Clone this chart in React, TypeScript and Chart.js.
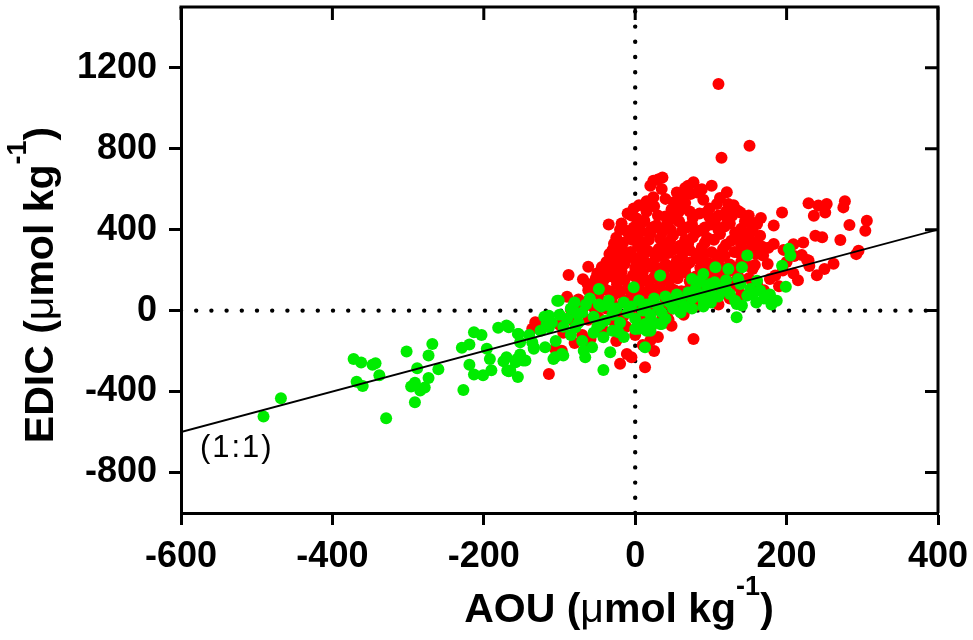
import React, { useEffect, useRef } from 'react';
import { Chart, registerables } from 'chart.js';

Chart.register(...registerables);

const X_MIN = -600;
const X_MAX = 400;
const Y_MIN = -1000;
const Y_MAX = 1500;
const X_TICKS = [-600, -400, -200, 0, 200, 400];
const Y_TICKS = [-800, -400, 0, 400, 800, 1200];

const X_TITLE = 'AOU';
const Y_TITLE = 'EDIC';
const UNIT_PREFIX = 'μ';
const UNIT_MAIN = 'mol kg';
const UNIT_SUP = '-1';
const LINE_LABEL = '(1:1)';

// AOU (x), EDIC (y) — red series
const RED: [number, number][] = [
  // outliers
  [110, 1120], [151, 815], [114, 755], [-35, 425], [-62, 217], [-88, 176], [-69, 155], [-63, 132],
  [-90, 69], [-132, -58], [-136, -90], [-114, -313], [-106, -189], [-97, -198], [-59, -140],
  [-130, -75], [77, -140], [-11, -214], [13, -280], [-20, -263], [20, -148], [42, -33],
  [-46, 189], [-37, 198], [-29, 231], [-22, 214],
  // upper cluster
  [24, 642], [30, 648], [36, 658], [35, 601], [20, 617], [24, 560], [77, 634], [70, 617], [82, 584],
  [73, 576], [55, 584], [51, 535], [57, 486], [101, 617], [121, 585], [123, 527], [108, 527], [94, 485],
  [66, 606], [53, 527], [9, 436], [22, 411], [42, 428], [88, 600], [62, 560],
  // right cluster
  [194, 485], [229, 530], [242, 519], [253, 527], [251, 485], [236, 469], [277, 540], [275, 510],
  [306, 444], [304, 395], [283, 423], [271, 349], [238, 370], [247, 362], [222, 337], [209, 328],
  [295, 296], [292, 279], [229, 247], [183, 420], [183, 329], [169, 272], [166, 457], [152, 431],
  [148, 379], [165, 370], [161, 428], [154, 436], [139, 485], [128, 469], [227, 250], [196, 300],
  [210, 270], [176, 310],
  // lower right
  [195, 198], [209, 183], [185, 173], [178, 156], [161, 132], [121, 148], [103, 99], [230, 220],
  [250, 205], [240, 175], [262, 232], [215, 150], [190, 120], [170, 100], [140, 80], [125, 60],
  [150, 160], [135, 120], [220, 275], [200, 240], [175, 230], [155, 205], [110, 30], [95, 60],
  [80, 25], [60, 5],
  // main body
  [15, 540], [40, 552], [66, 532], [90, 548], [112, 556], [130, 520], [-2, 505],
  [-5, 470], [15, 490], [40, 465], [62, 505], [85, 480], [110, 470], [135, 495], [150, 470],
  [-18, 430], [-2, 410], [12, 445], [28, 420], [47, 400], [58, 440], [75, 425], [92, 410],
  [105, 440], [118, 415], [140, 405], [155, 395],
  [-25, 360], [-8, 375], [6, 345], [20, 380], [33, 355], [50, 372], [66, 350], [80, 385],
  [95, 360], [112, 378], [127, 345], [145, 355], [160, 340],
  [-30, 300], [-18, 312], [-6, 290], [4, 318], [17, 295], [31, 305], [44, 285], [59, 320],
  [72, 298], [88, 312], [101, 288], [116, 305], [131, 290], [150, 300], [168, 315],
  [-38, 240], [-26, 255], [-14, 232], [0, 250], [14, 238], [27, 262], [40, 230], [55, 248],
  [68, 225], [84, 255], [97, 235], [110, 250], [125, 228], [140, 240], [158, 225],
  [-50, 185], [-34, 170], [-18, 195], [-3, 175], [10, 188], [25, 165], [38, 192], [52, 172],
  [66, 190], [80, 168], [93, 185], [107, 175], [122, 195], [136, 170],
  [-55, 120], [-40, 105], [-24, 130], [-10, 110], [5, 125], [18, 100], [33, 128], [47, 112],
  [61, 95], [76, 120], [90, 105], [104, 130], [118, 90],
  [-75, 55], [-60, 60], [-45, 45], [-30, 70], [-16, 40], [-2, 65], [12, 50], [26, 75],
  [41, 35], [56, 62], [70, 40], [86, 70],
  [-85, 5], [-70, 0], [-52, -15], [-38, 10], [-22, -20], [-6, 5], [8, -25], [22, -5],
  [36, -30], [50, 10], [64, -20],
  [-120, -40], [-100, -70], [-80, -60], [-62, -45], [-44, -70], [-28, -55], [-12, -80], [4, -65],
  [20, -95], [34, -60], [48, -75],
  [-95, -110], [-70, -120], [-40, -105], [-25, -150], [0, -120], [10, -170], [30, -130],
  [-60, -170], [-80, -160], [-5, -230], [25, -200],
  // extra fill of the dense core
  [2, 455], [30, 470], [52, 452], [76, 458], [98, 462], [122, 452],
  [-12, 395], [8, 392], [36, 388], [62, 395], [86, 396], [110, 398], [132, 385], [150, 372],
  [-16, 335], [12, 330], [40, 325], [70, 330], [92, 335], [120, 325], [140, 322],
  [-22, 272], [8, 272], [36, 270], [62, 272], [90, 275], [118, 270], [145, 268],
  [-28, 210], [0, 212], [30, 210], [58, 208], [86, 212], [114, 212], [128, 200],
  [-42, 150], [-14, 152], [16, 148], [44, 150], [72, 145], [98, 152], [112, 150],
  [-48, 85], [-20, 88], [8, 85], [36, 90], [62, 80], [80, 88],
  [-58, 25], [-30, 30], [-2, 28], [28, 22], [45, 55],
  [-10, 480], [5, 520], [25, 515], [48, 500], [72, 490], [98, 505], [120, 490],
  [-20, 400], [0, 380], [22, 400], [42, 415], [68, 410], [100, 425], [125, 430], [145, 440],
  [-28, 330], [-4, 350], [18, 350], [46, 345], [76, 362], [104, 350], [135, 365], [155, 325],
  [-34, 280], [-12, 265], [12, 282], [26, 280], [50, 300], [80, 280], [108, 272], [138, 282], [160, 280],
  [-44, 215], [-20, 220], [6, 222], [22, 215], [46, 218], [72, 238], [100, 215], [132, 212], [150, 220],
  [-52, 160], [-26, 158], [2, 160], [28, 180], [56, 160], [84, 150], [110, 160], [126, 140],
  [-62, 100], [-34, 95], [-6, 95], [22, 110], [52, 100], [70, 100], [92, 90], [112, 110],
  [-68, 40], [-40, 45], [-12, 50], [18, 40], [40, 55], [76, 55],
  [-78, -20], [-48, -35], [-16, -30], [14, -40], [44, -45],
];

// AOU (x), EDIC (y) — green series
const GREEN: [number, number][] = [
  // left tail
  [-491, -523], [-468, -433], [-372, -239], [-362, -257], [-347, -268], [-343, -260], [-338, -319],
  [-368, -352], [-360, -372], [-329, -532], [-302, -202], [-288, -285], [-273, -222], [-268, -165],
  [-260, -290], [-273, -333], [-291, -356], [-296, -375], [-284, -395], [-278, -380], [-291, -453],
  [-227, -392], [-229, -184], [-219, -168], [-213, -107], [-203, -120], [-196, -189], [-192, -239],
  [-219, -268], [-213, -316], [-201, -319], [-190, -295], [-181, -85], [-167, -82], [-174, -250],
  [-167, -300],
  // middle
  [-155, -115], [-152, -217], [-155, -328], [-148, -247], [-158, -255], [-169, -296], [-134, -189],
  [-136, -156], [-119, -181], [-114, -82], [-114, -25], [-101, 49], [-108, -239], [-95, -222],
  [-79, -82], [-77, -16], [-66, -231], [-68, -198], [-57, -181], [-42, -293], [-33, -206],
  [-42, -132], [-46, -66], [-22, -107], [13, -181], [0, -91], [13, -66], [20, -99], [35, -66],
  [-2, 115], [-48, 107], [-35, 25], [-103, 49], [-81, 33], [-117, -66], [-48, 30], [33, 173],
  [15, -99], [-106, -231], [-97, -214], [-170, -74], [-154, -115], [-152, -156], [-134, -181],
  [-170, -231], [-156, -239], [-145, -247], [-165, -296],
  // band along the line
  [-100, -20], [-90, -40], [-85, 10], [-75, -60], [-70, -10], [-65, 30], [-55, -30], [-50, -80],
  [-45, 20], [-40, -50], [-35, 50], [-30, -20], [-25, 10], [-20, -60], [-15, 40], [-10, -10],
  [-5, 20], [0, -40], [5, 50], [10, 0], [15, 30], [20, -20], [25, 60], [30, 20], [35, -10],
  [40, 70], [45, 40], [50, 10], [55, 80], [60, 50], [65, 20], [70, 90], [75, 60], [80, 110],
  [85, 80], [90, 50], [95, 120], [100, 90], [105, 140], [110, 70], [115, 110], [120, 150],
  [-60, 60], [-80, 40], [-95, -80], [-110, -60], [-120, -30], [-125, -100], [-140, -120],
  [-105, -150], [-85, -120], [-70, -150], [-55, -110], [-30, -100], [-15, -130], [5, -90],
  [25, -60], [40, -40], [60, -10], [75, 10], [90, 20], [100, 40],
  // right
  [203, 305], [205, 272], [194, 222], [199, 118], [178, 79], [187, 49], [165, 99], [161, 148],
  [148, 272], [141, 214], [123, 206], [106, 214], [90, 181], [86, 148], [75, 156], [99, 132],
  [125, 82], [132, 49], [134, 33], [148, 74], [152, 107], [139, 132], [136, 156], [134, -33],
  [33, -66], [141, 25], [170, 60], [180, 30], [160, 40], [120, 100], [155, 80],
];

const ONE_TO_ONE: [number, number][] = [[-600, -600], [400, 400]];
const ZERO_H: [number, number][] = [[-600, 0], [400, 0]];
const ZERO_V: [number, number][] = [[0, -1000], [0, 1500]];

const FONT = "'Liberation Sans', Arial, Helvetica, sans-serif";
const RED_COLOR = '#ff0000';
const GREEN_COLOR = '#00ec00';

const toXY = (arr: [number, number][]) => arr.map(([x, y]) => ({ x, y }));

type Seg = { t: string; bold: boolean; sup?: boolean };

function drawRich(ctx: CanvasRenderingContext2D, segs: Seg[], x: number, y: number, size: number, supSize: number, supRise: number) {
  const widths = segs.map((s) => {
    ctx.font = `${s.bold ? 'bold ' : ''}${s.sup ? supSize : size}px ${FONT}`;
    return ctx.measureText(s.t).width;
  });
  const total = widths.reduce((a, b) => a + b, 0);
  let cx = x - total / 2;
  ctx.textBaseline = 'alphabetic';
  ctx.textAlign = 'left';
  segs.forEach((s, i) => {
    ctx.font = `${s.bold ? 'bold ' : ''}${s.sup ? supSize : size}px ${FONT}`;
    ctx.fillText(s.t, cx, s.sup ? y - supRise : y);
    cx += widths[i];
  });
}

const framePlugin = {
  id: 'framePlugin',
  afterDraw(chart: any) {
    const { ctx, chartArea: a, scales } = chart;
    const xs = scales.x;
    const ys = scales.y;
    ctx.save();
    ctx.strokeStyle = '#000';
    ctx.lineWidth = 3;
    ctx.lineCap = 'butt';
    ctx.lineJoin = 'miter';
    ctx.beginPath();
    ctx.moveTo(a.left - 1.5, a.top);
    ctx.lineTo(a.right, a.top);
    ctx.lineTo(a.right, a.bottom);
    ctx.stroke();
    ctx.beginPath();
    X_TICKS.forEach((v) => {
      const px = xs.getPixelForValue(v);
      ctx.moveTo(px, a.top);
      ctx.lineTo(px, a.top + 13);
    });
    Y_TICKS.forEach((v) => {
      const py = ys.getPixelForValue(v);
      ctx.moveTo(a.right, py);
      ctx.lineTo(a.right - 13, py);
    });
    ctx.stroke();

    ctx.fillStyle = '#000';
    // (1:1) label
    ctx.font = `31px ${FONT}`;
    (ctx as any).letterSpacing = '2px';
    ctx.textAlign = 'left';
    ctx.textBaseline = 'middle';
    ctx.fillText(LINE_LABEL, xs.getPixelForValue(-575), ys.getPixelForValue(-681));
    (ctx as any).letterSpacing = '0px';

    const xSegs: Seg[] = [
      { t: X_TITLE + ' (', bold: true },
      { t: UNIT_PREFIX, bold: false },
      { t: UNIT_MAIN, bold: true },
      { t: UNIT_SUP, bold: true, sup: true },
      { t: ')', bold: true },
    ];
    drawRich(ctx, xSegs, a.left + 438, 622, 41, 27, 27);

    const ySegs: Seg[] = [
      { t: Y_TITLE + ' (', bold: true },
      { t: UNIT_PREFIX, bold: false },
      { t: UNIT_MAIN, bold: true },
      { t: UNIT_SUP, bold: true, sup: true },
      { t: ')', bold: true },
    ];
    ctx.save();
    ctx.translate(53, 285);
    ctx.rotate(-Math.PI / 2);
    drawRich(ctx, ySegs, 0, 0, 41, 27, 27);
    ctx.restore();
    ctx.restore();
  },
};

export default function App() {
  const ref = useRef<HTMLCanvasElement | null>(null);

  useEffect(() => {
    if (!ref.current) return;
    const tickFont = { size: 36, weight: 'bold' as const, family: FONT };
    const chart = new Chart(ref.current, {
      type: 'scatter',
      data: {
        datasets: [
          {
            type: 'line' as any,
            label: '1:1',
            data: toXY(ONE_TO_ONE),
            borderColor: '#000',
            borderWidth: 1.8,
            pointRadius: 0,
            fill: false,
            order: 0,
          } as any,
          {
            label: 'green',
            data: toXY(GREEN),
            backgroundColor: GREEN_COLOR,
            borderWidth: 0,
            pointRadius: 6,
            pointHoverRadius: 6,
            order: 1,
          },
          {
            label: 'red',
            data: toXY(RED),
            backgroundColor: RED_COLOR,
            borderWidth: 0,
            pointRadius: 6,
            pointHoverRadius: 6,
            order: 2,
          },
          {
            type: 'line' as any,
            label: 'zeroH',
            data: toXY(ZERO_H),
            borderColor: '#000',
            borderWidth: 4.4,
            borderDash: [0, 15.2],
            borderCapStyle: 'round',
            pointRadius: 0,
            fill: false,
            order: 3,
          } as any,
          {
            type: 'line' as any,
            label: 'zeroV',
            data: toXY(ZERO_V),
            borderColor: '#000',
            borderWidth: 4.4,
            borderDash: [0, 15.2],
            borderCapStyle: 'round',
            pointRadius: 0,
            fill: false,
            order: 3,
          } as any,
        ],
      },
      options: {
        animation: false,
        responsive: false,
        maintainAspectRatio: false,
        layout: { padding: { top: 7, right: 35, left: 0, bottom: 0 } },
        plugins: { legend: { display: false }, tooltip: { enabled: false } },
        scales: {
          x: {
            type: 'linear',
            position: 'bottom',
            min: X_MIN,
            max: X_MAX,
            afterBuildTicks: (s: any) => {
              s.ticks = X_TICKS.map((v) => ({ value: v }));
            },
            afterFit: (s: any) => {
              s.height = 127;
              s.paddingLeft = 0;
              s.paddingRight = 0;
            },
            border: { display: true, color: '#000', width: 3 },
            grid: { display: true, drawOnChartArea: false, drawTicks: true, tickLength: 12, tickWidth: 3, tickColor: '#000' },
            ticks: { color: '#000', font: tickFont, padding: 10, maxRotation: 0, autoSkip: false, callback: (v: any) => String(v) },
          },
          y: {
            type: 'linear',
            position: 'left',
            min: Y_MIN,
            max: Y_MAX,
            afterBuildTicks: (s: any) => {
              s.ticks = Y_TICKS.map((v) => ({ value: v }));
            },
            afterFit: (s: any) => {
              s.width = 181;
              s.paddingTop = 0;
              s.paddingBottom = 0;
            },
            border: { display: true, color: '#000', width: 3 },
            grid: { display: true, drawOnChartArea: false, drawTicks: true, tickLength: 12, tickWidth: 3, tickColor: '#000' },
            ticks: { color: '#000', font: tickFont, padding: 12, autoSkip: false, callback: (v: any) => String(v) },
          },
        },
      },
      plugins: [framePlugin],
    });
    return () => chart.destroy();
  }, []);

  return (
    <div style={{ position: 'fixed', left: 0, top: 0, width: 973, height: 640, background: '#fff' }}>
      <canvas ref={ref} width={973} height={640} style={{ display: 'block', width: 973, height: 640 }} />
    </div>
  );
}
